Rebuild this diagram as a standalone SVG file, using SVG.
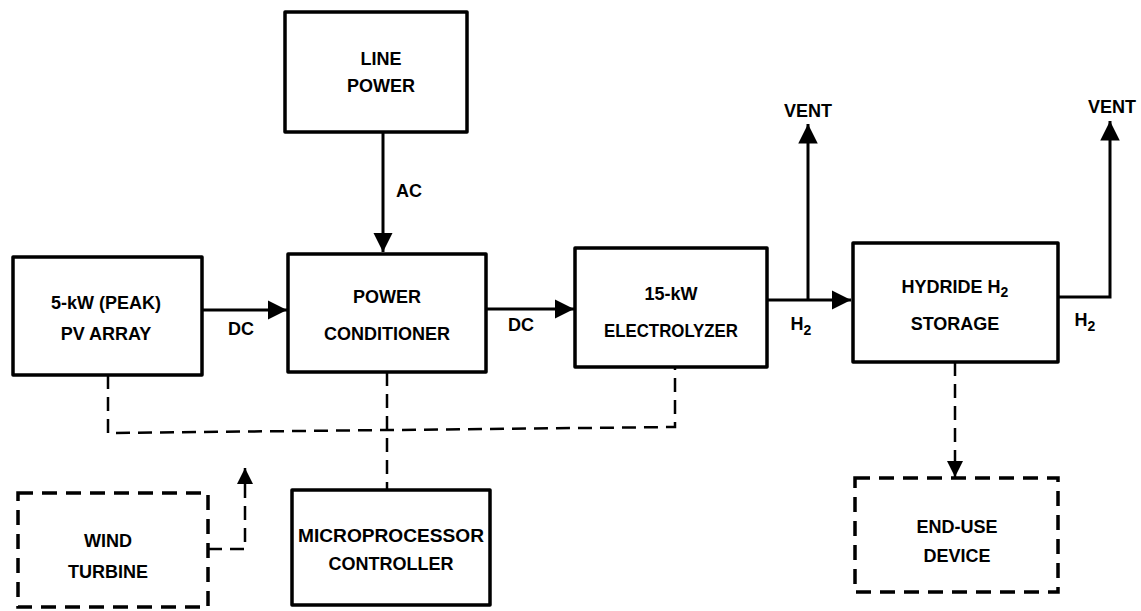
<svg xmlns="http://www.w3.org/2000/svg" width="1141" height="611" viewBox="0 0 1141 611">
<style>
.box{fill:#fff;stroke:#000;stroke-width:3.5;stroke-linejoin:round}
.dbox{fill:none;stroke:#000;stroke-width:3.5;stroke-dasharray:15 9}
.ln{fill:none;stroke:#000;stroke-width:3}
.dl{fill:none;stroke:#000;stroke-width:2.5;stroke-dasharray:14 8}
text{font-family:"Liberation Sans",Arial,sans-serif;font-weight:bold;font-size:18px;fill:#000;text-anchor:middle}
.sub{font-size:14px}
</style>
<defs>
<marker id="ah" viewBox="0 0 10 10" refX="10" refY="5" markerWidth="6.5" markerHeight="6.5" markerUnits="strokeWidth" orient="auto">
<path d="M0,0 L10,5 L0,10 z" fill="#000"/>
</marker>
<marker id="ahd" viewBox="0 0 10 10" refX="10" refY="5" markerWidth="6.5" markerHeight="6.5" markerUnits="strokeWidth" orient="auto">
<path d="M0,0 L10,5 L0,10 z" fill="#000"/>
</marker>
</defs>
<g id="connectors">
<line class="ln" x1="202" y1="310" x2="287" y2="310" marker-end="url(#ah)"/>
<line class="ln" x1="383" y1="132" x2="383" y2="252" marker-end="url(#ah)"/>
<line class="ln" x1="486" y1="309" x2="574" y2="309" marker-end="url(#ah)"/>
<line class="ln" x1="767" y1="300" x2="851" y2="300" marker-end="url(#ah)"/>
<line class="ln" x1="808" y1="300" x2="808" y2="124" marker-end="url(#ah)"/>
<polyline class="ln" points="1058,297 1110,297 1110,121" marker-end="url(#ah)"/>
<polyline class="dl" points="108,375 108,433 675,427 675,367"/>
<line class="dl" x1="387" y1="372" x2="387" y2="490"/>
<polyline class="dl" points="208,549 245,549 245,468" marker-end="url(#ahd)"/>
<line class="dl" x1="955" y1="362" x2="955" y2="477" marker-end="url(#ahd)"/>
<text x="409" y="197">AC</text>
<text x="241" y="335">DC</text>
<text x="521" y="331">DC</text>
<text x="801" y="330">H<tspan class="sub" dy="5">2</tspan></text>
<text x="1085" y="326">H<tspan class="sub" dy="5">2</tspan></text>
<text x="808" y="117">VENT</text>
<text x="1112" y="113">VENT</text>
</g>
<g id="line-power">
<rect class="box" x="285" y="12" width="182" height="120"/>
<text x="381" y="65">LINE</text>
<text x="381" y="92">POWER</text>
</g>
<g id="pv-array">
<rect class="box" x="13" y="257" width="189" height="118"/>
<text x="106" y="309">5-kW (PEAK)</text>
<text x="106" y="340">PV ARRAY</text>
</g>
<g id="power-conditioner">
<rect class="box" x="288" y="254" width="198" height="118"/>
<text x="387" y="303">POWER</text>
<text x="387" y="340">CONDITIONER</text>
</g>
<g id="electrolyzer">
<rect class="box" x="575" y="248" width="192" height="119"/>
<text x="671" y="300">15-kW</text>
<text x="671" y="337" textLength="134" lengthAdjust="spacingAndGlyphs">ELECTROLYZER</text>
</g>
<g id="hydride-storage">
<rect class="box" x="853" y="243" width="205" height="119"/>
<text x="955" y="293">HYDRIDE H<tspan class="sub" dy="4">2</tspan></text>
<text x="955" y="330">STORAGE</text>
</g>
<g id="microprocessor-controller">
<rect class="box" x="292" y="490" width="198" height="115"/>
<text x="391" y="542" textLength="186" lengthAdjust="spacingAndGlyphs">MICROPROCESSOR</text>
<text x="391" y="570">CONTROLLER</text>
</g>
<g id="wind-turbine">
<rect class="dbox" x="18" y="493" width="190" height="114"/>
<text x="108" y="547">WIND</text>
<text x="108" y="578">TURBINE</text>
</g>
<g id="end-use-device">
<rect class="dbox" x="855" y="478" width="203" height="114"/>
<text x="957" y="533">END-USE</text>
<text x="957" y="562">DEVICE</text>
</g>
</svg>
